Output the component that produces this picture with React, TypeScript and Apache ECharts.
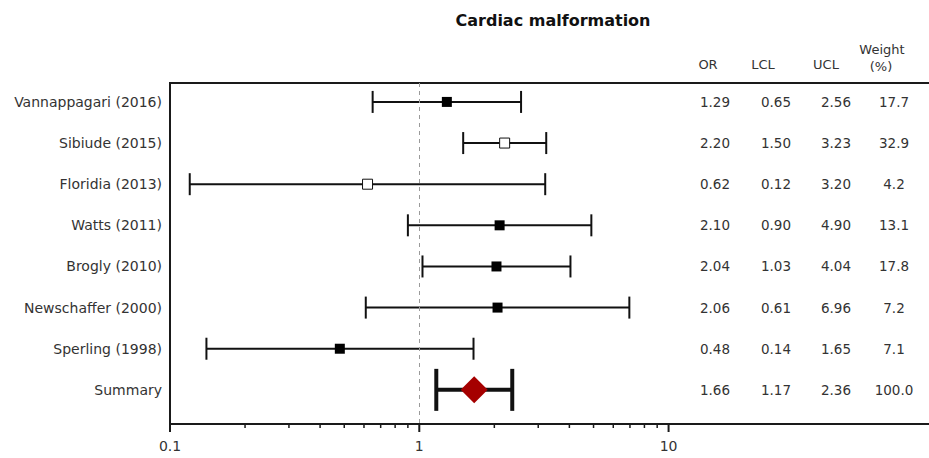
import React, { useEffect, useRef } from 'react';
import * as echarts from 'echarts';

const studies = [
  'Vannappagari (2016)',
  'Sibiude (2015)',
  'Floridia (2013)',
  'Watts (2011)',
  'Brogly (2010)',
  'Newschaffer (2000)',
  'Sperling (1998)',
  'Summary',
];
const oddsRatio = [1.29, 2.2, 0.62, 2.1, 2.04, 2.06, 0.48, 1.66];
const lowerCL = [0.65, 1.5, 0.12, 0.9, 1.03, 0.61, 0.14, 1.17];
const upperCL = [2.56, 3.23, 3.2, 4.9, 4.04, 6.96, 1.65, 2.36];
const weightPct = [17.7, 32.9, 4.2, 13.1, 17.8, 7.2, 7.1, 100.0];
const hollowMarker = [false, true, true, false, false, false, false, false];
const majorTicks = [0.1, 1, 10];
const minorTicks = [0.2, 0.3, 0.4, 0.5, 0.6, 0.7, 0.8, 0.9, 2, 3, 4, 5, 6, 7, 8, 9];
const tickLabels = ['0.1', '1', '10'];
const title = 'Cardiac malformation';

const FONT = '"DejaVu Sans", sans-serif';
const TEXT = '#333';

export default function App() {
  const ref = useRef<HTMLDivElement>(null);
  useEffect(() => {
    if (!ref.current) return;
    const chart = echarts.init(ref.current, null, { renderer: 'svg' });
    const last = studies.length - 1;
    const idx = studies.map((_, i) => i);
    const colX = [715, 776, 836, 894];

    const option: any = {
      animation: false,
      textStyle: { fontFamily: FONT },
      grid: {
        left: 170,
        top: 83,
        width: 763,
        height: 341,
        outerBoundsMode: 'none',
        containLabel: false,
        show: true,
        borderColor: '#1a1a1a',
        borderWidth: 2,
      },
      xAxis: {
        type: 'log',
        logBase: 10,
        min: 0.1,
        max: 115,
        axisLine: { show: false },
        axisTick: { show: false },
        splitLine: { show: false },
        axisLabel: {
          margin: 15,
          fontSize: 14,
          color: TEXT,
          fontFamily: FONT,
          formatter: (v: number) => {
            const k = majorTicks.findIndex((m) => Math.abs(m - v) < m * 1e-6);
            return k >= 0 ? tickLabels[k] : '';
          },
        },
      },
      yAxis: {
        type: 'value',
        inverse: true,
        min: -0.46,
        max: 7.83,
        axisLine: { show: false },
        axisTick: { show: false },
        splitLine: { show: false },
        axisLabel: {
          customValues: idx,
          margin: 8,
          fontSize: 14,
          color: TEXT,
          fontFamily: FONT,
          formatter: (v: number) => studies[Math.round(v)] ?? '',
        },
      },
      graphic: [
        {
          type: 'text',
          x: 553,
          y: 20,
          style: {
            text: title,
            fontSize: 16,
            fontWeight: 'bold',
            fontFamily: FONT,
            fill: '#111',
            align: 'center',
            verticalAlign: 'middle',
          },
        },
        ...[
          ['OR', 708, 64],
          ['LCL', 763, 64],
          ['UCL', 826, 64],
          ['Weight', 882, 49],
          ['(%)', 881, 66],
        ].map(([t, x, y]) => ({
          type: 'text',
          x,
          y,
          style: {
            text: t,
            fontSize: 13,
            fontFamily: FONT,
            fill: TEXT,
            align: 'center',
            verticalAlign: 'middle',
          },
        })),
      ],
      series: [
        {
          type: 'custom',
          clip: false,
          silent: true,
          z: 1,
          data: [
            ...majorTicks.map((v) => [v, 0, 1]),
            ...minorTicks.map((v) => [v, 0, 0]),
          ],
          encode: { x: 0, y: 1 },
          renderItem: (params: any, api: any) => {
            const x = api.coord([api.value(0), 0])[0];
            const yb = params.coordSys.y + params.coordSys.height + 1;
            const len = api.value(2) ? 7 : 3;
            return {
              type: 'line',
              shape: { x1: x, y1: yb, x2: x, y2: yb + len },
              style: { stroke: '#1a1a1a', lineWidth: api.value(2) ? 2 : 1.5 },
            };
          },
        },
        {
          type: 'custom',
          clip: false,
          z: 3,
          data: idx.map((i) => [lowerCL[i], upperCL[i], i]),
          encode: { x: [0, 1], y: 2 },
          renderItem: (params: any, api: any) => {
            const i = api.value(2);
            const p1 = api.coord([api.value(0), i]);
            const p2 = api.coord([api.value(1), i]);
            const summary = i === last;
            const lw = summary ? 4 : 2;
            const h = summary ? 21 : 11;
            const style = { stroke: '#111', lineWidth: lw };
            return {
              type: 'group',
              children: [
                { type: 'line', shape: { x1: p1[0], y1: p1[1], x2: p2[0], y2: p2[1] }, style },
                { type: 'line', shape: { x1: p1[0], y1: p1[1] - h, x2: p1[0], y2: p1[1] + h }, style },
                { type: 'line', shape: { x1: p2[0], y1: p2[1] - h, x2: p2[0], y2: p2[1] + h }, style },
              ],
            };
          },
          markLine: {
            silent: true,
            symbol: ['none', 'none'],
            label: { show: false },
            lineStyle: { type: [4, 4], color: '#9a9a9a', width: 1 },
            data: [{ xAxis: 1 }],
          },
        },
        {
          type: 'scatter',
          z: 4,
          symbol: 'rect',
          symbolSize: 10,
          itemStyle: { color: '#000', opacity: 1 },
          data: idx.filter((i) => i !== last && !hollowMarker[i]).map((i) => [oddsRatio[i], i]),
        },
        {
          type: 'scatter',
          z: 4,
          symbol: 'rect',
          symbolSize: 10,
          itemStyle: { color: '#fff', borderColor: '#111', borderWidth: 1, opacity: 1 },
          data: idx.filter((i) => i !== last && hollowMarker[i]).map((i) => [oddsRatio[i], i]),
        },
        {
          type: 'scatter',
          z: 5,
          symbol: 'diamond',
          symbolSize: [27, 27],
          itemStyle: { color: '#a50000', opacity: 1 },
          data: [[oddsRatio[last], last]],
        },
        {
          type: 'custom',
          clip: false,
          silent: true,
          z: 2,
          data: idx.map((i) => [1, i]),
          encode: { x: 0, y: 1 },
          renderItem: (params: any, api: any) => {
            const i = api.value(1);
            const y = api.coord([1, i])[1];
            const vals = [
              oddsRatio[i].toFixed(2),
              lowerCL[i].toFixed(2),
              upperCL[i].toFixed(2),
              weightPct[i].toFixed(1),
            ];
            return {
              type: 'group',
              children: vals.map((t, k) => ({
                type: 'text',
                x: colX[k],
                y,
                style: {
                  text: t,
                  fontSize: 13.5,
                  fontFamily: FONT,
                  fill: TEXT,
                  align: 'center',
                  verticalAlign: 'middle',
                },
              })),
            };
          },
        },
      ],
    };
    chart.setOption(option);
    return () => chart.dispose();
  }, []);
  return (
    <div
      ref={ref}
      style={{ position: 'fixed', left: 0, top: 0, width: 929, height: 458, background: '#fff' }}
    />
  );
}
